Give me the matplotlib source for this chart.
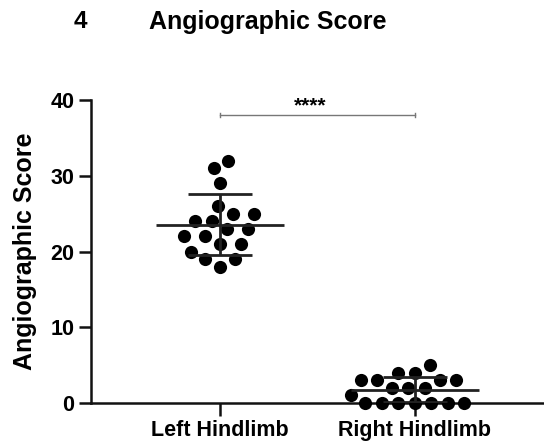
import numpy as np
import matplotlib
matplotlib.use("Agg")
import matplotlib.pyplot as plt

plt.rcParams['font.family'] = ['Liberation Sans', 'DejaVu Sans']
plt.rcParams['font.weight'] = 'bold'

groups = ['Left Hindlimb', 'Right Hindlimb']
left_scores = [32, 31, 29, 26, 25, 25, 24, 24, 23, 23, 22, 22, 21, 21, 20, 19, 19, 18]
right_scores = [5, 4, 4, 3, 3, 3, 3, 2, 2, 2, 1, 0, 0, 0, 0, 0, 0, 0]
yticks = [0, 10, 20, 30, 40]
sig_label = '****'

fig = plt.figure(figsize=(5.44, 4.43), dpi=100)
ax = fig.add_axes([91/544, 1 - 403/443, (544 - 91)/544, (403 - 100)/443])
ax.set_xlim(-0.662, 1.662)
ax.set_ylim(0, 40)


def swarm_offsets(vals, dmin):
    # simple beeswarm in pixel space, returns x offsets in data units
    sx = ax.transData.transform((1, 0))[0] - ax.transData.transform((0, 0))[0]
    sy = ax.transData.transform((0, 1))[1] - ax.transData.transform((0, 0))[1]
    vals = np.asarray(vals, dtype=float)
    order = np.argsort(vals, kind='stable')
    placed = []
    offs = np.zeros(len(vals))
    for i in order:
        y = vals[i] * sy
        cands = [0.0]
        for px, py in placed:
            dy = abs(py - y)
            if dy < dmin:
                dx = np.sqrt(dmin**2 - dy**2)
                cands += [px + dx, px - dx]
        cands.sort(key=lambda c: (abs(c), c))
        for c in cands:
            if all((c - px)**2 + (y - py)**2 >= dmin**2 - 1e-6 for px, py in placed):
                break
        placed.append((c, y))
        offs[i] = c / sx
    return offs


for k, vals in enumerate([left_scores, right_scores]):
    xo = swarm_offsets(vals, 16.5)
    ax.scatter(k + xo, vals, s=90, color='black', zorder=3, clip_on=False, linewidths=0)
    m = np.mean(vals)
    sd = np.std(vals, ddof=1)
    ax.hlines(m, k - 0.33, k + 0.33, color='#222222', lw=2.0, zorder=4)
    ax.vlines(k, max(m - sd, 0), m + sd, color='#222222', lw=2.0, zorder=4)
    ax.hlines([m - sd, m + sd], k - 0.165, k + 0.165, color='#222222', lw=2.0, zorder=4)

# significance bracket
ax.plot([0, 1], [38, 38], color='#777777', lw=1.0, clip_on=False)
ax.plot([0, 0], [37.7, 38.3], color='#777777', lw=1.0, clip_on=False)
ax.plot([1, 1], [37.7, 38.3], color='#777777', lw=1.0, clip_on=False)
ax.text(0.46, 38.0, sig_label, ha='center', va='bottom', fontsize=15, fontweight='bold')

ax.set_xticks([0, 1])
ax.set_xticklabels(groups, fontsize=15.5, fontweight='bold')
ax.set_yticks(yticks)
ax.set_yticklabels([str(t) for t in yticks], fontsize=15.5, fontweight='bold')
ax.tick_params(axis='both', length=9, width=1.8, color='#111111', pad=3)
ax.tick_params(axis='x', pad=3)
for side in ['top', 'right']:
    ax.spines[side].set_visible(False)
for side in ['left', 'bottom']:
    ax.spines[side].set_linewidth(1.8)
    ax.spines[side].set_color('#111111')

fig.text(25/544, 1 - 251/443, 'Angiographic Score', rotation=90, ha='center', va='center',
         fontsize=18, fontweight='bold')
fig.text(80/544, 1 - 22/443, '4', ha='center', va='center', fontsize=17.5, fontweight='bold')
fig.text(149/544, 1 - 22/443, 'Angiographic Score', ha='left', va='center',
         fontsize=18, fontweight='bold')

fig.savefig('out.png', dpi=100)
